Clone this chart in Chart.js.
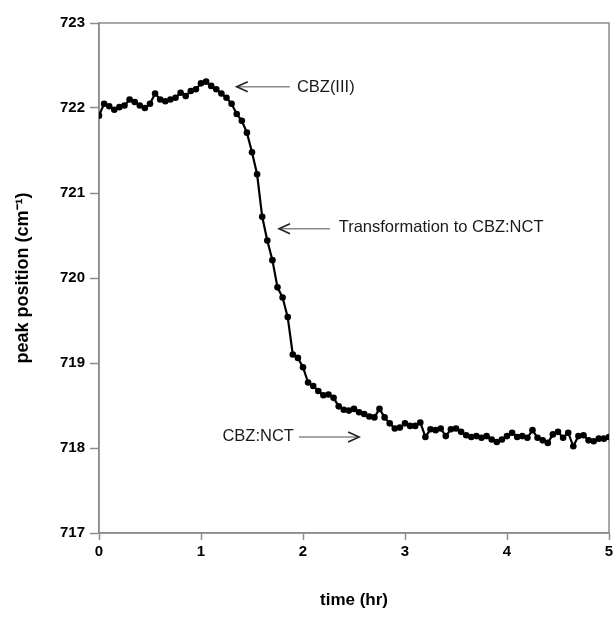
<!DOCTYPE html>
<html>
<head>
<meta charset="utf-8">
<script src="https://cdn.jsdelivr.net/npm/chart.js@4/dist/chart.umd.min.js"></script>
<style>
  html, body { margin: 0; padding: 0; background: #ffffff; }
  #wrap { width: 613px; height: 619px; }
</style>
</head>
<body>
<div id="wrap"><canvas id="c" width="613" height="619"></canvas></div>
<script>
// ---- data ----
const timeHr = [
  0.00,0.05,0.10,0.15,0.20,0.25,0.30,0.35,0.40,0.45,
  0.50,0.55,0.60,0.65,0.70,0.75,0.80,0.85,0.90,0.95,
  1.00,1.05,1.10,1.15,1.20,1.25,1.30,1.35,1.40,1.45,
  1.50,1.55,1.60,1.65,1.70,1.75,1.80,1.85,1.90,1.95,
  2.00,2.05,2.10,2.15,2.20,2.25,2.30,2.35,2.40,2.45,
  2.50,2.55,2.60,2.65,2.70,2.75,2.80,2.85,2.90,2.95,
  3.00,3.05,3.10,3.15,3.20,3.25,3.30,3.35,3.40,3.45,
  3.50,3.55,3.60,3.65,3.70,3.75,3.80,3.85,3.90,3.95,
  4.00,4.05,4.10,4.15,4.20,4.25,4.30,4.35,4.40,4.45,
  4.50,4.55,4.60,4.65,4.70,4.75,4.80,4.85,4.90,4.95,
  5.00
];
const peakPosition = [
  721.91,722.05,722.02,721.98,722.01,722.03,722.10,722.07,722.03,722.00,
  722.05,722.17,722.10,722.08,722.10,722.12,722.18,722.14,722.20,722.22,
  722.29,722.31,722.26,722.22,722.17,722.12,722.05,721.93,721.85,721.71,
  721.48,721.22,720.72,720.44,720.21,719.89,719.77,719.54,719.10,719.06,
  718.95,718.77,718.73,718.67,718.62,718.63,718.59,718.49,718.45,718.44,
  718.46,718.42,718.40,718.37,718.36,718.46,718.36,718.29,718.23,718.24,
  718.29,718.26,718.26,718.30,718.13,718.22,718.21,718.23,718.14,718.22,
  718.23,718.19,718.15,718.13,718.14,718.12,718.14,718.10,718.07,718.10,
  718.14,718.18,718.13,718.14,718.12,718.21,718.12,718.09,718.06,718.16,
  718.19,718.12,718.18,718.02,718.14,718.15,718.09,718.08,718.11,718.11,
  718.13
];
const xTicks = [0, 1, 2, 3, 4, 5];
const yTicks = [717, 718, 719, 720, 721, 722, 723];
const xTitle = 'time (hr)';
const yTitle = 'peak position (cm\u207B\u00B9)';

// annotation labels (in data units)
const notes = [
  { text: 'CBZ(III)', tx: 1.94, ty: 722.24, from: 1.35, to: 1.87, ay: 722.25, head: 'left' },
  { text: 'Transformation to CBZ:NCT', tx: 2.35, ty: 720.59, from: 1.765, to: 2.265, ay: 720.58, head: 'left' },
  { text: 'CBZ:NCT', tx: 1.21, ty: 718.13, from: 1.96, to: 2.55, ay: 718.13, head: 'right' }
];

const points = timeHr.map((t, i) => ({ x: t, y: peakPosition[i] }));
const FONT = '"Liberation Sans", Arial, sans-serif';
const AXIS_GREY = '#8c8c8c';

const framePlugin = {
  id: 'frame',
  beforeDatasetsDraw(chart) {
    const { ctx, chartArea: a } = chart;
    ctx.save();
    ctx.strokeStyle = AXIS_GREY;
    ctx.lineWidth = 1.5;
    ctx.strokeRect(a.left, a.top, a.right - a.left, a.bottom - a.top);
    ctx.restore();
  }
};

const notesPlugin = {
  id: 'notes',
  afterDatasetsDraw(chart) {
    const { ctx } = chart;
    const xs = chart.scales.x, ys = chart.scales.y;
    ctx.save();
    notes.forEach(n => {
      const x1 = xs.getPixelForValue(n.from);
      const x2 = xs.getPixelForValue(n.to);
      const y = ys.getPixelForValue(n.ay);
      ctx.strokeStyle = '#8a8a8a';
      ctx.lineWidth = 1.5;
      ctx.beginPath();
      ctx.moveTo(x1, y); ctx.lineTo(x2, y);
      ctx.stroke();
      ctx.strokeStyle = '#222';
      ctx.lineWidth = 1.6;
      ctx.beginPath();
      if (n.head === 'left') {
        ctx.moveTo(x1 + 11, y - 5); ctx.lineTo(x1, y); ctx.lineTo(x1 + 11, y + 5);
      } else {
        ctx.moveTo(x2 - 11, y - 5); ctx.lineTo(x2, y); ctx.lineTo(x2 - 11, y + 5);
      }
      ctx.stroke();
      ctx.fillStyle = '#1a1a1a';
      ctx.font = '16.5px ' + FONT;
      ctx.textAlign = 'left';
      ctx.textBaseline = 'middle';
      ctx.fillText(n.text, xs.getPixelForValue(n.tx), ys.getPixelForValue(n.ty));
    });
    ctx.restore();
  }
};

new Chart(document.getElementById('c'), {
  type: 'line',
  data: {
    datasets: [{
      data: points,
      borderColor: '#000',
      backgroundColor: '#000',
      borderWidth: 2.2,
      pointRadius: 3.3,
      pointBorderWidth: 0,
      pointBackgroundColor: '#000',
      tension: 0
    }]
  },
  options: {
    responsive: false,
    animation: false,
    layout: { padding: { left: 0, right: 3, top: 23, bottom: 0 } },
    plugins: { legend: { display: false }, tooltip: { enabled: false } },
    scales: {
      x: {
        type: 'linear',
        min: 0, max: 5,
        afterBuildTicks: s => { s.ticks = xTicks.map(v => ({ value: v })); },
        afterFit: s => { s.height = 86; s.paddingLeft = 0; s.paddingRight = 0; },
        grid: { drawOnChartArea: false, drawTicks: true, tickLength: 7, tickColor: AXIS_GREY, tickWidth: 1.5 },
        border: { color: AXIS_GREY, width: 1.5 },
        ticks: { color: '#000', padding: 3, maxRotation: 0, font: { family: FONT, size: 15, weight: 'bold' } },
        title: { display: true, text: xTitle, color: '#000', padding: { top: 0, bottom: 8 }, font: { family: FONT, size: 17, weight: 'bold' } }
      },
      y: {
        type: 'linear',
        min: 717, max: 723,
        afterBuildTicks: s => { s.ticks = yTicks.map(v => ({ value: v })); },
        afterFit: s => { s.width = 99; s.paddingTop = 0; s.paddingBottom = 0; },
        grid: { drawOnChartArea: false, drawTicks: true, tickLength: 9, tickColor: AXIS_GREY, tickWidth: 1.5 },
        border: { color: AXIS_GREY, width: 1.5 },
        ticks: { color: '#000', padding: 5, font: { family: FONT, size: 15, weight: 'bold' } },
        title: { display: true, text: yTitle, color: '#000', padding: { top: 12, bottom: 0 }, font: { family: FONT, size: 18, weight: 'bold' } }
      }
    }
  },
  plugins: [framePlugin, notesPlugin]
});
</script>
</body>
</html>
